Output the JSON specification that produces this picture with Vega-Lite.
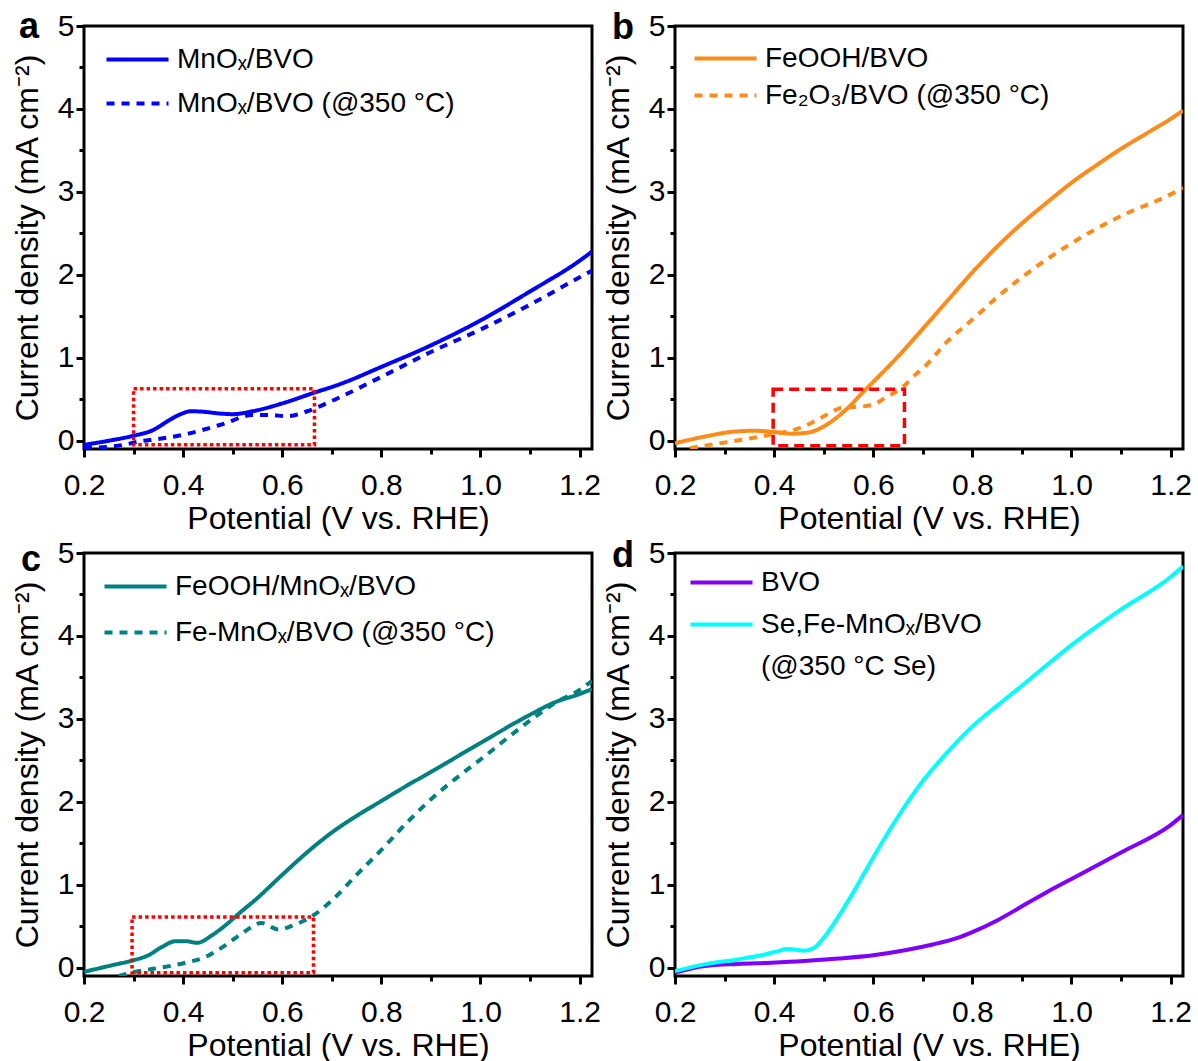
{
  "$schema": "https://vega.github.io/schema/vega-lite/v6.json",
  "autosize": {"type": "none"},
  "padding": {"left": 84, "top": 26, "right": 1114, "bottom": 1035},
  "background": "white",
  "config": {
    "font": "Liberation Sans",
    "view": {"stroke": "black", "strokeWidth": 3},
    "axis": {"domain": false, "grid": false, "tickColor": "black", "tickWidth": 3, "labelFontSize": 30, "titleFontSize": 32, "titleFontWeight": "normal", "labelColor": "black", "titleColor": "black", "labelFont": "Liberation Sans", "titleFont": "Liberation Sans", "labelFlush": false, "labelOverlap": false},
    "legend": {"title": null, "orient": "none", "symbolType": "M-2,0H2", "symbolSize": 961, "symbolStrokeWidth": 4, "labelFontSize": 28, "labelFont": "Liberation Sans", "labelColor": "black", "labelOffset": 22, "padding": 0, "labelLimit": 0},
    "title": {"fontSize": 36, "fontWeight": "bold", "font": "Liberation Sans", "anchor": "start", "frame": "group", "orient": "top", "offset": 0, "baseline": "alphabetic", "color": "black"}
  },
  "columns": 2,
  "spacing": {"row": 104, "column": 83},
  "bounds": "flush",
  "resolve": {"scale": {"color": "independent", "strokeDash": "independent"}},
  "concat": [
        {
          "width": 508, "height": 423,
          "title": {"text": "a", "dx": -65, "dy": 39},
          "layer": [
            {
              "data": {"values": [
                {"V": 0.2, "J": -0.05, "s": "MnOₓ/BVO"},
                {"V": 0.25, "J": 0.0, "s": "MnOₓ/BVO"},
                {"V": 0.3, "J": 0.06, "s": "MnOₓ/BVO"},
                {"V": 0.34, "J": 0.13, "s": "MnOₓ/BVO"},
                {"V": 0.37, "J": 0.24, "s": "MnOₓ/BVO"},
                {"V": 0.395, "J": 0.32, "s": "MnOₓ/BVO"},
                {"V": 0.415, "J": 0.355, "s": "MnOₓ/BVO"},
                {"V": 0.44, "J": 0.35, "s": "MnOₓ/BVO"},
                {"V": 0.47, "J": 0.33, "s": "MnOₓ/BVO"},
                {"V": 0.5, "J": 0.32, "s": "MnOₓ/BVO"},
                {"V": 0.54, "J": 0.355, "s": "MnOₓ/BVO"},
                {"V": 0.6, "J": 0.45, "s": "MnOₓ/BVO"},
                {"V": 0.66, "J": 0.57, "s": "MnOₓ/BVO"},
                {"V": 0.72, "J": 0.69, "s": "MnOₓ/BVO"},
                {"V": 0.8, "J": 0.89, "s": "MnOₓ/BVO"},
                {"V": 0.9, "J": 1.15, "s": "MnOₓ/BVO"},
                {"V": 1.0, "J": 1.45, "s": "MnOₓ/BVO"},
                {"V": 1.1, "J": 1.8, "s": "MnOₓ/BVO"},
                {"V": 1.2, "J": 2.17, "s": "MnOₓ/BVO"},
                {"V": 1.225, "J": 2.28, "s": "MnOₓ/BVO"},
                {"V": 0.2, "J": -0.09, "s": "MnOₓ/BVO (@350 °C)"},
                {"V": 0.28, "J": -0.05, "s": "MnOₓ/BVO (@350 °C)"},
                {"V": 0.31, "J": -0.01, "s": "MnOₓ/BVO (@350 °C)"},
                {"V": 0.35, "J": 0.02, "s": "MnOₓ/BVO (@350 °C)"},
                {"V": 0.41, "J": 0.085, "s": "MnOₓ/BVO (@350 °C)"},
                {"V": 0.48, "J": 0.2, "s": "MnOₓ/BVO (@350 °C)"},
                {"V": 0.54, "J": 0.31, "s": "MnOₓ/BVO (@350 °C)"},
                {"V": 0.575, "J": 0.31, "s": "MnOₓ/BVO (@350 °C)"},
                {"V": 0.61, "J": 0.295, "s": "MnOₓ/BVO (@350 °C)"},
                {"V": 0.65, "J": 0.355, "s": "MnOₓ/BVO (@350 °C)"},
                {"V": 0.7, "J": 0.48, "s": "MnOₓ/BVO (@350 °C)"},
                {"V": 0.8, "J": 0.77, "s": "MnOₓ/BVO (@350 °C)"},
                {"V": 0.9, "J": 1.07, "s": "MnOₓ/BVO (@350 °C)"},
                {"V": 1.0, "J": 1.34, "s": "MnOₓ/BVO (@350 °C)"},
                {"V": 1.1, "J": 1.64, "s": "MnOₓ/BVO (@350 °C)"},
                {"V": 1.2, "J": 1.97, "s": "MnOₓ/BVO (@350 °C)"},
                {"V": 1.225, "J": 2.05, "s": "MnOₓ/BVO (@350 °C)"}
              ]},
              "mark": {"type": "line", "strokeWidth": 4, "interpolate": "monotone", "clip": true},
              "encoding": {
                "x": {"field": "V", "type": "quantitative", "scale": {"domain": [0.2, 1.225], "nice": false, "zero": false},
                  "axis": {"title": "Potential (V vs. RHE)", "values": [0.2,0.3,0.4,0.5,0.6,0.7,0.8,0.9,1.0,1.1,1.2], "labelExpr": "round(datum.value*10) % 2 == 0 ? format(datum.value, '.1f') : ''", "tickSize": {"condition": {"test": "round(datum.value*10) % 2 == 0", "value": 8}, "value": 5}, "labelPadding": 13, "titlePadding": 3}},
                "y": {"field": "J", "type": "quantitative", "scale": {"domain": [-0.1, 5], "nice": false, "zero": false},
                  "axis": {"title": "Current density (mA cm⁻²)", "values": [0,0.5,1,1.5,2,2.5,3,3.5,4,4.5,5], "labelExpr": "datum.value % 1 == 0 ? format(datum.value, 'd') : ''", "tickSize": {"condition": {"test": "datum.value % 1 == 0", "value": 8}, "value": 5}, "labelPadding": 2, "titlePadding": 13}},
                "color": {"field": "s", "type": "nominal", "scale": {"domain": ["MnOₓ/BVO", "MnOₓ/BVO (@350 °C)"], "range": ["#0000ff", "#0000ff"]}, "legend": {"legendX": 36, "legendY": 16, "rowPadding": 12}},
                "strokeDash": {"field": "s", "type": "nominal", "scale": {"domain": ["MnOₓ/BVO", "MnOₓ/BVO (@350 °C)"], "range": [[1, 0], [8, 7]]}, "legend": {"legendX": 36, "legendY": 16, "rowPadding": 12}}
              }
            },
            {
              "data": {"values": [{"V": 0.3, "V2": 0.665, "J": -0.05, "J2": 0.625}]},
              "mark": {"type": "rect", "fill": null, "stroke": "#ff0000", "strokeWidth": 3.5, "strokeDash": [3.5, 3]},
              "encoding": {
                "x": {"field": "V", "type": "quantitative"},
                "x2": {"field": "V2"},
                "y": {"field": "J", "type": "quantitative"},
                "y2": {"field": "J2"}
              }
            }
          ]
        },
        {
          "width": 508, "height": 423,
          "title": {"text": "b", "dx": -63, "dy": 40},
          "layer": [
            {
              "data": {"values": [
                {"V": 0.2, "J": -0.03, "s": "FeOOH/BVO"},
                {"V": 0.26, "J": 0.05, "s": "FeOOH/BVO"},
                {"V": 0.32, "J": 0.11, "s": "FeOOH/BVO"},
                {"V": 0.36, "J": 0.12, "s": "FeOOH/BVO"},
                {"V": 0.4, "J": 0.105, "s": "FeOOH/BVO"},
                {"V": 0.437, "J": 0.085, "s": "FeOOH/BVO"},
                {"V": 0.47, "J": 0.1, "s": "FeOOH/BVO"},
                {"V": 0.505, "J": 0.19, "s": "FeOOH/BVO"},
                {"V": 0.545, "J": 0.375, "s": "FeOOH/BVO"},
                {"V": 0.585, "J": 0.62, "s": "FeOOH/BVO"},
                {"V": 0.625, "J": 0.86, "s": "FeOOH/BVO"},
                {"V": 0.66, "J": 1.08, "s": "FeOOH/BVO"},
                {"V": 0.7, "J": 1.35, "s": "FeOOH/BVO"},
                {"V": 0.75, "J": 1.69, "s": "FeOOH/BVO"},
                {"V": 0.8, "J": 2.03, "s": "FeOOH/BVO"},
                {"V": 0.85, "J": 2.34, "s": "FeOOH/BVO"},
                {"V": 0.9, "J": 2.62, "s": "FeOOH/BVO"},
                {"V": 0.95, "J": 2.87, "s": "FeOOH/BVO"},
                {"V": 1.0, "J": 3.11, "s": "FeOOH/BVO"},
                {"V": 1.05, "J": 3.32, "s": "FeOOH/BVO"},
                {"V": 1.1, "J": 3.52, "s": "FeOOH/BVO"},
                {"V": 1.15, "J": 3.7, "s": "FeOOH/BVO"},
                {"V": 1.2, "J": 3.88, "s": "FeOOH/BVO"},
                {"V": 1.225, "J": 3.98, "s": "FeOOH/BVO"},
                {"V": 0.23, "J": -0.09, "s": "Fe₂O₃/BVO (@350 °C)"},
                {"V": 0.27, "J": -0.05, "s": "Fe₂O₃/BVO (@350 °C)"},
                {"V": 0.344, "J": 0.02, "s": "Fe₂O₃/BVO (@350 °C)"},
                {"V": 0.39, "J": 0.07, "s": "Fe₂O₃/BVO (@350 °C)"},
                {"V": 0.445, "J": 0.14, "s": "Fe₂O₃/BVO (@350 °C)"},
                {"V": 0.477, "J": 0.22, "s": "Fe₂O₃/BVO (@350 °C)"},
                {"V": 0.505, "J": 0.31, "s": "Fe₂O₃/BVO (@350 °C)"},
                {"V": 0.538, "J": 0.4, "s": "Fe₂O₃/BVO (@350 °C)"},
                {"V": 0.572, "J": 0.41, "s": "Fe₂O₃/BVO (@350 °C)"},
                {"V": 0.598, "J": 0.43, "s": "Fe₂O₃/BVO (@350 °C)"},
                {"V": 0.625, "J": 0.52, "s": "Fe₂O₃/BVO (@350 °C)"},
                {"V": 0.658, "J": 0.64, "s": "Fe₂O₃/BVO (@350 °C)"},
                {"V": 0.686, "J": 0.8, "s": "Fe₂O₃/BVO (@350 °C)"},
                {"V": 0.7, "J": 0.87, "s": "Fe₂O₃/BVO (@350 °C)"},
                {"V": 0.75, "J": 1.2, "s": "Fe₂O₃/BVO (@350 °C)"},
                {"V": 0.8, "J": 1.46, "s": "Fe₂O₃/BVO (@350 °C)"},
                {"V": 0.85, "J": 1.73, "s": "Fe₂O₃/BVO (@350 °C)"},
                {"V": 0.9, "J": 1.97, "s": "Fe₂O₃/BVO (@350 °C)"},
                {"V": 1.0, "J": 2.38, "s": "Fe₂O₃/BVO (@350 °C)"},
                {"V": 1.1, "J": 2.71, "s": "Fe₂O₃/BVO (@350 °C)"},
                {"V": 1.2, "J": 2.97, "s": "Fe₂O₃/BVO (@350 °C)"},
                {"V": 1.225, "J": 3.05, "s": "Fe₂O₃/BVO (@350 °C)"}
              ]},
              "mark": {"type": "line", "strokeWidth": 4, "interpolate": "monotone", "clip": true},
              "encoding": {
                "x": {"field": "V", "type": "quantitative", "scale": {"domain": [0.2, 1.225], "nice": false, "zero": false},
                  "axis": {"title": "Potential (V vs. RHE)", "values": [0.2,0.3,0.4,0.5,0.6,0.7,0.8,0.9,1.0,1.1,1.2], "labelExpr": "round(datum.value*10) % 2 == 0 ? format(datum.value, '.1f') : ''", "tickSize": {"condition": {"test": "round(datum.value*10) % 2 == 0", "value": 8}, "value": 5}, "labelPadding": 13, "titlePadding": 3}},
                "y": {"field": "J", "type": "quantitative", "scale": {"domain": [-0.1, 5], "nice": false, "zero": false},
                  "axis": {"title": "Current density (mA cm⁻²)", "values": [0,0.5,1,1.5,2,2.5,3,3.5,4,4.5,5], "labelExpr": "datum.value % 1 == 0 ? format(datum.value, 'd') : ''", "tickSize": {"condition": {"test": "datum.value % 1 == 0", "value": 8}, "value": 5}, "labelPadding": 2, "titlePadding": 13}},
                "color": {"field": "s", "type": "nominal", "scale": {"domain": ["FeOOH/BVO", "Fe₂O₃/BVO (@350 °C)"], "range": ["#ff8c1a", "#ff8c1a"]}, "legend": {"legendX": 33, "legendY": 15, "rowPadding": 5}},
                "strokeDash": {"field": "s", "type": "nominal", "scale": {"domain": ["FeOOH/BVO", "Fe₂O₃/BVO (@350 °C)"], "range": [[1, 0], [8, 7]]}, "legend": {"legendX": 33, "legendY": 15, "rowPadding": 5}}
              }
            },
            {
              "data": {"values": [{"V": 0.398, "V2": 0.663, "J": -0.06, "J2": 0.62}]},
              "mark": {"type": "rect", "fill": null, "stroke": "#ff0000", "strokeWidth": 3.5, "strokeDash": [10, 6]},
              "encoding": {
                "x": {"field": "V", "type": "quantitative"},
                "x2": {"field": "V2"},
                "y": {"field": "J", "type": "quantitative"},
                "y2": {"field": "J2"}
              }
            }
          ]
        },
        {
          "width": 508, "height": 423,
          "title": {"text": "c", "dx": -63, "dy": 45},
          "layer": [
            {
              "data": {"values": [
                {"V": 0.2, "J": -0.05, "s": "FeOOH/MnOₓ/BVO"},
                {"V": 0.257, "J": 0.03, "s": "FeOOH/MnOₓ/BVO"},
                {"V": 0.3, "J": 0.09, "s": "FeOOH/MnOₓ/BVO"},
                {"V": 0.33, "J": 0.15, "s": "FeOOH/MnOₓ/BVO"},
                {"V": 0.357, "J": 0.25, "s": "FeOOH/MnOₓ/BVO"},
                {"V": 0.385, "J": 0.32, "s": "FeOOH/MnOₓ/BVO"},
                {"V": 0.405, "J": 0.32, "s": "FeOOH/MnOₓ/BVO"},
                {"V": 0.428, "J": 0.3, "s": "FeOOH/MnOₓ/BVO"},
                {"V": 0.458, "J": 0.39, "s": "FeOOH/MnOₓ/BVO"},
                {"V": 0.485, "J": 0.51, "s": "FeOOH/MnOₓ/BVO"},
                {"V": 0.512, "J": 0.65, "s": "FeOOH/MnOₓ/BVO"},
                {"V": 0.546, "J": 0.82, "s": "FeOOH/MnOₓ/BVO"},
                {"V": 0.6, "J": 1.12, "s": "FeOOH/MnOₓ/BVO"},
                {"V": 0.65, "J": 1.39, "s": "FeOOH/MnOₓ/BVO"},
                {"V": 0.7, "J": 1.63, "s": "FeOOH/MnOₓ/BVO"},
                {"V": 0.75, "J": 1.83, "s": "FeOOH/MnOₓ/BVO"},
                {"V": 0.8, "J": 2.01, "s": "FeOOH/MnOₓ/BVO"},
                {"V": 0.85, "J": 2.19, "s": "FeOOH/MnOₓ/BVO"},
                {"V": 0.9, "J": 2.36, "s": "FeOOH/MnOₓ/BVO"},
                {"V": 1.0, "J": 2.71, "s": "FeOOH/MnOₓ/BVO"},
                {"V": 1.1, "J": 3.05, "s": "FeOOH/MnOₓ/BVO"},
                {"V": 1.15, "J": 3.2, "s": "FeOOH/MnOₓ/BVO"},
                {"V": 1.2, "J": 3.3, "s": "FeOOH/MnOₓ/BVO"},
                {"V": 1.225, "J": 3.36, "s": "FeOOH/MnOₓ/BVO"},
                {"V": 0.27, "J": -0.1, "s": "Fe-MnOₓ/BVO (@350 °C)"},
                {"V": 0.303, "J": -0.05, "s": "Fe-MnOₓ/BVO (@350 °C)"},
                {"V": 0.343, "J": -0.01, "s": "Fe-MnOₓ/BVO (@350 °C)"},
                {"V": 0.405, "J": 0.06, "s": "Fe-MnOₓ/BVO (@350 °C)"},
                {"V": 0.445, "J": 0.13, "s": "Fe-MnOₓ/BVO (@350 °C)"},
                {"V": 0.485, "J": 0.27, "s": "Fe-MnOₓ/BVO (@350 °C)"},
                {"V": 0.525, "J": 0.44, "s": "Fe-MnOₓ/BVO (@350 °C)"},
                {"V": 0.558, "J": 0.54, "s": "Fe-MnOₓ/BVO (@350 °C)"},
                {"V": 0.592, "J": 0.46, "s": "Fe-MnOₓ/BVO (@350 °C)"},
                {"V": 0.626, "J": 0.52, "s": "Fe-MnOₓ/BVO (@350 °C)"},
                {"V": 0.66, "J": 0.62, "s": "Fe-MnOₓ/BVO (@350 °C)"},
                {"V": 0.7, "J": 0.81, "s": "Fe-MnOₓ/BVO (@350 °C)"},
                {"V": 0.75, "J": 1.12, "s": "Fe-MnOₓ/BVO (@350 °C)"},
                {"V": 0.8, "J": 1.42, "s": "Fe-MnOₓ/BVO (@350 °C)"},
                {"V": 0.85, "J": 1.74, "s": "Fe-MnOₓ/BVO (@350 °C)"},
                {"V": 0.9, "J": 2.03, "s": "Fe-MnOₓ/BVO (@350 °C)"},
                {"V": 0.95, "J": 2.28, "s": "Fe-MnOₓ/BVO (@350 °C)"},
                {"V": 1.0, "J": 2.51, "s": "Fe-MnOₓ/BVO (@350 °C)"},
                {"V": 1.1, "J": 2.98, "s": "Fe-MnOₓ/BVO (@350 °C)"},
                {"V": 1.15, "J": 3.19, "s": "Fe-MnOₓ/BVO (@350 °C)"},
                {"V": 1.2, "J": 3.35, "s": "Fe-MnOₓ/BVO (@350 °C)"},
                {"V": 1.225, "J": 3.46, "s": "Fe-MnOₓ/BVO (@350 °C)"}
              ]},
              "mark": {"type": "line", "strokeWidth": 4, "interpolate": "monotone", "clip": true},
              "encoding": {
                "x": {"field": "V", "type": "quantitative", "scale": {"domain": [0.2, 1.225], "nice": false, "zero": false},
                  "axis": {"title": "Potential (V vs. RHE)", "values": [0.2,0.3,0.4,0.5,0.6,0.7,0.8,0.9,1.0,1.1,1.2], "labelExpr": "round(datum.value*10) % 2 == 0 ? format(datum.value, '.1f') : ''", "tickSize": {"condition": {"test": "round(datum.value*10) % 2 == 0", "value": 8}, "value": 5}, "labelPadding": 13, "titlePadding": 3}},
                "y": {"field": "J", "type": "quantitative", "scale": {"domain": [-0.1, 5], "nice": false, "zero": false},
                  "axis": {"title": "Current density (mA cm⁻²)", "values": [0,0.5,1,1.5,2,2.5,3,3.5,4,4.5,5], "labelExpr": "datum.value % 1 == 0 ? format(datum.value, 'd') : ''", "tickSize": {"condition": {"test": "datum.value % 1 == 0", "value": 8}, "value": 5}, "labelPadding": 2, "titlePadding": 13}},
                "color": {"field": "s", "type": "nominal", "scale": {"domain": ["FeOOH/MnOₓ/BVO", "Fe-MnOₓ/BVO (@350 °C)"], "range": ["#008080", "#008080"]}, "legend": {"legendX": 34, "legendY": 16, "rowPadding": 14}},
                "strokeDash": {"field": "s", "type": "nominal", "scale": {"domain": ["FeOOH/MnOₓ/BVO", "Fe-MnOₓ/BVO (@350 °C)"], "range": [[1, 0], [8, 7]]}, "legend": {"legendX": 34, "legendY": 16, "rowPadding": 14}}
              }
            },
            {
              "data": {"values": [{"V": 0.297, "V2": 0.663, "J": -0.06, "J2": 0.61}]},
              "mark": {"type": "rect", "fill": null, "stroke": "#ff0000", "strokeWidth": 3.5, "strokeDash": [3.5, 3]},
              "encoding": {
                "x": {"field": "V", "type": "quantitative"},
                "x2": {"field": "V2"},
                "y": {"field": "J", "type": "quantitative"},
                "y2": {"field": "J2"}
              }
            }
          ]
        },
        {
          "width": 508, "height": 423,
          "title": {"text": "d", "dx": -63, "dy": 41},
          "layer": [
            {
              "data": {"values": [
                {"V": 0.2, "J": -0.06, "s": "BVO"},
                {"V": 0.26, "J": 0.02, "s": "BVO"},
                {"V": 0.327, "J": 0.045, "s": "BVO"},
                {"V": 0.394, "J": 0.06, "s": "BVO"},
                {"V": 0.46, "J": 0.08, "s": "BVO"},
                {"V": 0.53, "J": 0.11, "s": "BVO"},
                {"V": 0.6, "J": 0.15, "s": "BVO"},
                {"V": 0.664, "J": 0.21, "s": "BVO"},
                {"V": 0.72, "J": 0.28, "s": "BVO"},
                {"V": 0.77, "J": 0.36, "s": "BVO"},
                {"V": 0.8, "J": 0.43, "s": "BVO"},
                {"V": 0.85, "J": 0.57, "s": "BVO"},
                {"V": 0.9, "J": 0.74, "s": "BVO"},
                {"V": 0.95, "J": 0.91, "s": "BVO"},
                {"V": 1.0, "J": 1.07, "s": "BVO"},
                {"V": 1.1, "J": 1.39, "s": "BVO"},
                {"V": 1.2, "J": 1.72, "s": "BVO"},
                {"V": 1.225, "J": 1.84, "s": "BVO"},
                {"V": 0.2, "J": -0.04, "s": "Se,Fe-MnOₓ/BVO"},
                {"V": 0.26, "J": 0.04, "s": "Se,Fe-MnOₓ/BVO"},
                {"V": 0.327, "J": 0.1, "s": "Se,Fe-MnOₓ/BVO"},
                {"V": 0.381, "J": 0.16, "s": "Se,Fe-MnOₓ/BVO"},
                {"V": 0.408, "J": 0.2, "s": "Se,Fe-MnOₓ/BVO"},
                {"V": 0.425, "J": 0.225, "s": "Se,Fe-MnOₓ/BVO"},
                {"V": 0.44, "J": 0.22, "s": "Se,Fe-MnOₓ/BVO"},
                {"V": 0.46, "J": 0.205, "s": "Se,Fe-MnOₓ/BVO"},
                {"V": 0.481, "J": 0.24, "s": "Se,Fe-MnOₓ/BVO"},
                {"V": 0.5, "J": 0.36, "s": "Se,Fe-MnOₓ/BVO"},
                {"V": 0.528, "J": 0.6, "s": "Se,Fe-MnOₓ/BVO"},
                {"V": 0.555, "J": 0.86, "s": "Se,Fe-MnOₓ/BVO"},
                {"V": 0.6, "J": 1.33, "s": "Se,Fe-MnOₓ/BVO"},
                {"V": 0.65, "J": 1.82, "s": "Se,Fe-MnOₓ/BVO"},
                {"V": 0.7, "J": 2.25, "s": "Se,Fe-MnOₓ/BVO"},
                {"V": 0.75, "J": 2.6, "s": "Se,Fe-MnOₓ/BVO"},
                {"V": 0.8, "J": 2.91, "s": "Se,Fe-MnOₓ/BVO"},
                {"V": 0.85, "J": 3.16, "s": "Se,Fe-MnOₓ/BVO"},
                {"V": 0.9, "J": 3.4, "s": "Se,Fe-MnOₓ/BVO"},
                {"V": 1.0, "J": 3.89, "s": "Se,Fe-MnOₓ/BVO"},
                {"V": 1.1, "J": 4.32, "s": "Se,Fe-MnOₓ/BVO"},
                {"V": 1.2, "J": 4.71, "s": "Se,Fe-MnOₓ/BVO"},
                {"V": 1.225, "J": 4.84, "s": "Se,Fe-MnOₓ/BVO"}
              ]},
              "mark": {"type": "line", "strokeWidth": 4, "interpolate": "monotone", "clip": true},
              "encoding": {
                "x": {"field": "V", "type": "quantitative", "scale": {"domain": [0.2, 1.225], "nice": false, "zero": false},
                  "axis": {"title": "Potential (V vs. RHE)", "values": [0.2,0.3,0.4,0.5,0.6,0.7,0.8,0.9,1.0,1.1,1.2], "labelExpr": "round(datum.value*10) % 2 == 0 ? format(datum.value, '.1f') : ''", "tickSize": {"condition": {"test": "round(datum.value*10) % 2 == 0", "value": 8}, "value": 5}, "labelPadding": 13, "titlePadding": 3}},
                "y": {"field": "J", "type": "quantitative", "scale": {"domain": [-0.1, 5], "nice": false, "zero": false},
                  "axis": {"title": "Current density (mA cm⁻²)", "values": [0,0.5,1,1.5,2,2.5,3,3.5,4,4.5,5], "labelExpr": "datum.value % 1 == 0 ? format(datum.value, 'd') : ''", "tickSize": {"condition": {"test": "datum.value % 1 == 0", "value": 8}, "value": 5}, "labelPadding": 2, "titlePadding": 13}},
                "color": {"field": "s", "type": "nominal", "scale": {"domain": ["BVO", "Se,Fe-MnOₓ/BVO", "(@350 °C Se)"], "range": ["#8000ff", "#00ffff", "rgba(0,0,0,0)"]}, "legend": {"legendX": 29, "legendY": 12, "rowPadding": 10}}
              }
            }
          ]
        }
  ]
}
